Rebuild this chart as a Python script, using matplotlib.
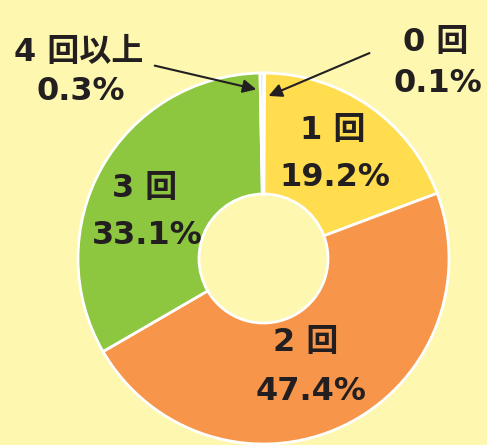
import matplotlib
matplotlib.use("Agg")
import matplotlib.pyplot as plt

labels = ["0 回", "1 回", "2 回", "3 回", "4 回以上"]
values = [0.1, 19.2, 47.4, 33.1, 0.3]
pct_labels = ["0.1%", "19.2%", "47.4%", "33.1%", "0.3%"]
colors = ["#F4F4F4", "#FFDD4F", "#F7964A", "#8DC63F", "#CFC6E4"]

# DejaVu bold for the digits (wide, heavy), Noto CJK for the kanji
plt.rcParams['font.family'] = ['DejaVu Sans', 'Noto Sans CJK JP']

W, H = 487, 445
bg = "#FEF7AF"
fig = plt.figure(figsize=(W / 100, H / 100), dpi=100, facecolor=bg)
ax = fig.add_axes([0, 0, 1, 1])
ax.set_facecolor(bg)

cx, cy, r = 263.5, H - 258.5, 185.5
ax.pie(values, colors=colors, startangle=90, counterclock=False,
       center=(cx, cy), radius=r,
       wedgeprops=dict(width=r - 64.5, edgecolor="white", linewidth=2))
ax.set_xlim(0, W)
ax.set_ylim(0, H)
ax.set_aspect("equal")
ax.axis("off")

txt = dict(fontsize=23, fontweight="bold", color="#231F20", ha="center", va="center")

# labels inside the wedges
ax.text(333, H - 131, labels[1], **txt)
ax.text(335, H - 178, pct_labels[1], **txt)
ax.text(306, H - 343, labels[2], **txt)
ax.text(311, H - 391, pct_labels[2], **txt)
ax.text(145, H - 188, labels[3], **txt)
ax.text(147, H - 236, pct_labels[3], **txt)

# small slices with arrows
ax.text(436, H - 43, labels[0], **txt)
ax.text(438, H - 83, pct_labels[0], **txt)
ax.annotate("", xy=(266, H - 97), xytext=(372, H - 52),
            arrowprops=dict(arrowstyle="-|>", color="#231F20", lw=1.5, mutation_scale=20))
ax.text(79, H - 53, labels[4], **txt)
ax.text(81, H - 91, pct_labels[4], **txt)
ax.annotate("", xy=(259, H - 90), xytext=(152, H - 65),
            arrowprops=dict(arrowstyle="-|>", color="#231F20", lw=1.5, mutation_scale=20))

fig.savefig("out.png", dpi=100, facecolor=bg)
